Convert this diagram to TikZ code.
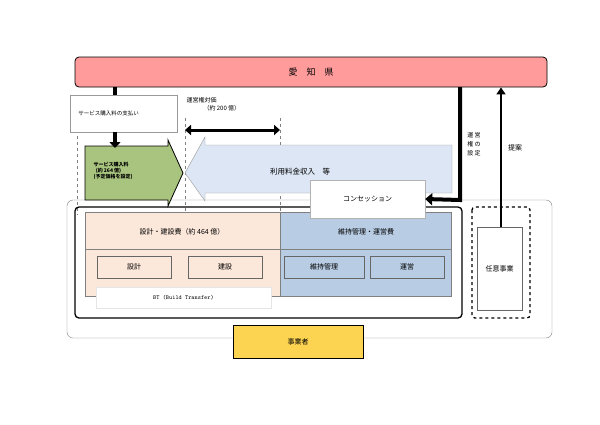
\documentclass[tikz,border=0pt]{standalone}
\usepackage{fontspec}
\setmainfont{Noto Sans CJK JP}
\usetikzlibrary{arrows.meta}
\definecolor{pinkf}{HTML}{FF9B9B}
\definecolor{greenf}{HTML}{A9C47F}
\definecolor{lblue}{HTML}{DCE6F4}
\definecolor{orf}{HTML}{FCE8DA}
\definecolor{blf}{HTML}{B8CCE4}
\definecolor{yelf}{HTML}{FDD451}
\tikzset{
 t/.style={font=\fontsize{6}{7}\selectfont},
 bx/.style={draw=black!70,thick},
 thickarr/.style={line width=4pt,-{Triangle[length=6pt,width=11pt]}},
 dl/.style={draw=black!50,dashed,thin}
}
\begin{document}
\begin{tikzpicture}[x=1pt,y=-1pt]
\useasboundingbox[fill=white] (0,0) rectangle (600,424);
% outer
\draw[black!50,rounded corners=6pt] (67,200) rectangle (552,338);
% dashed lines
\draw[dl] (77,130) -- (77,215);
\draw[dl] (185,118) -- (185,215);
\draw[dl] (280,118) -- (280,215);
% blue arrow
\draw[black!40,fill=lblue] (185,173) -- (205,137) -- (205,145) -- (452,145) -- (452,193) -- (205,193) -- (205,201) -- cycle;
\node[t,font=\fontsize{7.5}{8}\selectfont] (riyo) at (300,172) {利用料金収入\quad 等};
% green arrow
\draw[thick,fill=greenf] (85,146) -- (168,146) -- (168,140) -- (183,173) -- (168,206) -- (168,200) -- (85,200) -- cycle;
\node[t,font=\fontsize{5}{6}\bfseries\selectfont,align=left,text=black] (svc) at (113,171) {サービス購入料\\\ \ (約 264 億)\\(予定価格を設定)};
% aichi
\node[draw=black,thick,fill=pinkf,rounded corners=4pt,minimum width=472pt,minimum height=30pt,font=\fontsize{9}{10}\selectfont] (aichi) at (311,72) {愛\quad 知\quad 県};
% service payment box
\node[draw=black!40,fill=white,minimum width=107pt,minimum height=37pt,t,font=\fontsize{5.5}{6}\selectfont] (pay) at (123.5,113.5) {\hspace*{-30pt}サービス購入料の支払い};
\coordinate (a1) at (115,87);
\draw[line width=4pt] (a1) -- (115,95);
\coordinate (a2) at (115,132);
\coordinate (a3) at (115,148);
\draw[thickarr] (a2) -- (a3);
% double arrow
\coordinate (d1) at (185,130); \coordinate (d2) at (280,130);
\draw[line width=3pt,{Triangle[length=6pt,width=10pt]}-{Triangle[length=6pt,width=10pt]}] (d1) -- (d2);
\node[t,anchor=west] (untaika) at (183,100) {運営権対価};
\node[t,anchor=west] (yaku200) at (200,108) {（約 200 億）};
% inner black box
\draw[line width=1.3pt,rounded corners=4pt] (75,207) rectangle (462,318);
% orange & blue regions
\draw[black!50,fill=orf] (85,212) rectangle (280,296);
\draw[black!50,fill=blf] (280,212) rectangle (451,296);
\draw[black!50] (85,249) -- (451,249);
\node[t,font=\fontsize{7}{8}\selectfont] (sekkeihi) at (182,232) {設計・建設費（約 464 億）};
\node[t,font=\fontsize{7}{8}\selectfont] (ijihi) at (366,232) {維持管理・運営費};
\node[bx,draw=black!60,minimum width=74pt,minimum height=22pt,t,font=\fontsize{7}{8}\selectfont] (sekkei) at (134,267) {設計};
\node[bx,draw=black!60,minimum width=74pt,minimum height=22pt,t,font=\fontsize{7}{8}\selectfont] (kensetsu) at (225,267) {建設};
\node[bx,draw=black!60,minimum width=80pt,minimum height=22pt,t,font=\fontsize{7}{8}\selectfont] (iji) at (324,267) {維持管理};
\node[bx,draw=black!60,minimum width=74pt,minimum height=22pt,t,font=\fontsize{7}{8}\selectfont] (unei) at (407,267) {運営};
\node[fill=white,draw=black!10,minimum width=175pt,minimum height=21pt,t,font=\fontsize{6}{7}\ttfamily] (bt) at (183.5,297.5) {BT (Build Transfer)};
% concession
\node[draw=black!30,fill=white,minimum width=115pt,minimum height=38pt,t,font=\fontsize{7}{8}\selectfont] (conc) at (367.5,199) {コンセッション};
\coordinate (c1) at (460,87);
\draw[line width=4pt,-{Triangle[length=7pt,width=12pt]}] (c1) -- (460,200) -- (conc.east);
\node[t,align=left,font=\fontsize{6}{9}\selectfont] (unken) at (474,144) {運 営\\権 の\\設 定};
% optional business
\draw[line width=1.3pt,dashed,rounded corners=3pt] (472,207) rectangle (530,318);
\node[draw=black!60,fill=white,minimum width=45pt,minimum height=83pt,t,font=\fontsize{7}{8}\selectfont] (nini) at (499.5,268.5) {任意事業};
\draw[line width=1.5pt,-{Triangle[length=7pt,width=9pt]}] (nini.north -| 501,0) -- (aichi.south -| 501,0);
\node[t,font=\fontsize{7}{8}\selectfont] (teian) at (515,148) {提案};
% operator
\node[draw=black,thick,fill=yelf,minimum width=130pt,minimum height=33pt,t,font=\fontsize{7}{8}\selectfont] (jigyo) at (298,341.5) {事業者};
\end{tikzpicture}
\end{document}
